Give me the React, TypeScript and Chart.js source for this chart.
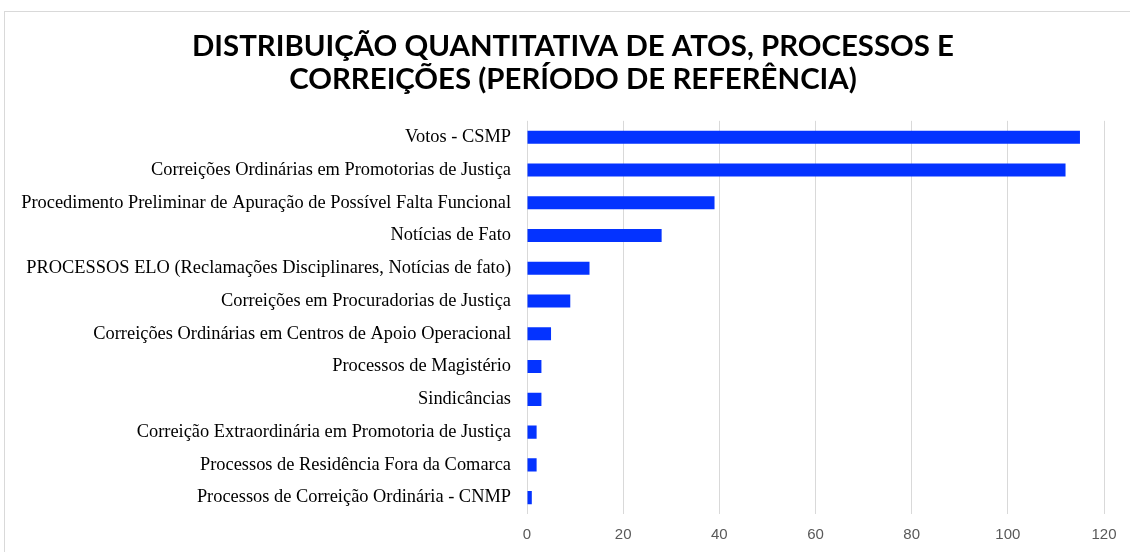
import React, { useEffect, useRef } from "react";
import { Chart, registerables } from "chart.js";

Chart.register(...registerables);

const categories: string[] = [
  "Votos - CSMP",
  "Correições Ordinárias em Promotorias de Justiça",
  "Procedimento Preliminar de Apuração de Possível Falta Funcional",
  "Notícias de Fato",
  "PROCESSOS ELO (Reclamações Disciplinares, Notícias de fato)",
  "Correições em Procuradorias de Justiça",
  "Correições Ordinárias em Centros de Apoio Operacional",
  "Processos de Magistério",
  "Sindicâncias",
  "Correição Extraordinária em Promotoria de Justiça",
  "Processos de Residência Fora da Comarca",
  "Processos de Correição Ordinária - CNMP",
];

const values: number[] = [115, 112, 39, 28, 13, 9, 5, 3, 3, 2, 2, 1];

const titleLines: string[] = [
  "DISTRIBUIÇÃO QUANTITATIVA DE ATOS, PROCESSOS E",
  "CORREIÇÕES (PERÍODO DE REFERÊNCIA)",
];

const xMin = 0;
const xMax = 120;
const xStep = 20;

const centerTitlePlugin = {
  id: "centerTitle",
  afterLayout(chart: any) {
    const t = chart.titleBlock;
    if (t) {
      t.left = 0;
      t.right = chart.width;
      t.width = chart.width;
    }
  },
};

export default function App() {
  const canvasRef = useRef<HTMLCanvasElement | null>(null);

  useEffect(() => {
    document.body.style.margin = "0";
    document.body.style.overflow = "hidden";
    const canvas = canvasRef.current;
    if (!canvas) return;
    const chart = new Chart(canvas, {
      type: "bar",
      data: {
        labels: categories,
        datasets: [
          {
            data: values,
            backgroundColor: "#0433FF",
            borderWidth: 0,
            barPercentage: 0.4,
            categoryPercentage: 1,
          },
        ],
      },
      plugins: [centerTitlePlugin],
      options: {
        indexAxis: "y",
        animation: false,
        responsive: false,
        maintainAspectRatio: false,
        layout: { padding: { top: 0, right: 37, bottom: 0, left: 0 } },
        plugins: {
          legend: { display: false },
          tooltip: { enabled: false },
          title: {
            display: true,
            text: titleLines,
            color: "#000000",
            font: { family: "Lato", size: 29.4, weight: "bold", lineHeight: 1.12 },
            padding: { top: 18, bottom: 25 },
          },
        },
        scales: {
          x: {
            type: "linear",
            min: xMin,
            max: xMax,
            ticks: {
              stepSize: xStep,
              color: "#595959",
              font: { family: "Liberation Sans", size: 15 },
              padding: 12,
            },
            grid: {
              color: "#d9d9d9",
              lineWidth: 1,
              drawTicks: false,
            },
            border: { display: false },
          },
          y: {
            type: "category",
            ticks: {
              color: "#000000",
              font: { family: "Liberation Serif", size: 18.4 },
              padding: 16,
              autoSkip: false,
            },
            grid: { display: false, drawTicks: false },
            border: { display: false },
            afterFit: (scale: any) => {
              scale.width = 522;
            },
          },
        },
      },
    });
    return () => chart.destroy();
  }, []);

  return (
    <div style={{ position: "fixed", left: 0, top: 0, width: 1130, height: 552, overflow: "hidden", background: "#ffffff" }}>
      <div
        style={{
          position: "absolute",
          left: 4,
          top: 11,
          width: 1136,
          height: 560,
          border: "1px solid #d9d9d9",
          background: "#ffffff",
        }}
      >
        <canvas ref={canvasRef} width={1136} height={544} style={{ display: "block", width: 1136, height: 544 }} />
      </div>
    </div>
  );
}
